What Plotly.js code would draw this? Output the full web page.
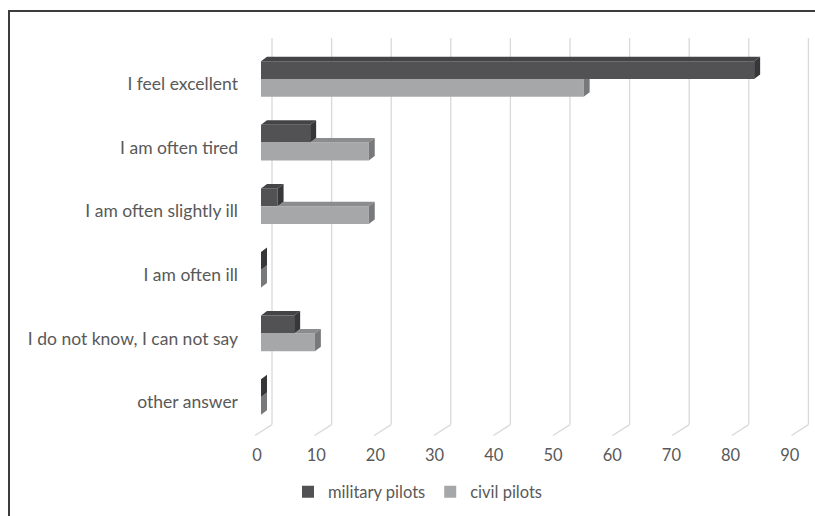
<!DOCTYPE html>
<html>
<head>
<meta charset="utf-8">
<script src="https://cdn.plot.ly/plotly-3.0.1.min.js"></script>
<style>
  html, body { margin: 0; padding: 0; background: #ffffff; }
  #chart { width: 815px; height: 516px; position: absolute; left: 0; top: 0; }
  #frame { position: absolute; left: 8px; top: 10px; width: 900px; height: 600px;
           border-left: 2px solid #3c3c3c; border-top: 2px solid #3c3c3c; pointer-events: none; }
</style>
</head>
<body>
<div id="chart"></div>
<div id="frame"></div>
<script>
// ---- data ----
const categories = [
  "I feel excellent",
  "I am often tired",
  "I am often slightly ill",
  "I am often ill",
  "I do not know, I can not say",
  "other answer"
];
const militaryPilots = [83.3, 8.3, 2.8, 0, 5.6, 0];
const civilPilots = [54.5, 18.2, 18.2, 0, 9.1, 0];
const xTickValues = [0, 10, 20, 30, 40, 50, 60, 70, 80, 90];
const seriesNames = ["military pilots", "civil pilots"];

// ---- geometry helpers (pixel <-> data for the pseudo-3D look) ----
const plotL = 250, plotR = 810, plotT = 36, plotB = 440;
const x0px = 261, pxPerUnit = 5.92;         // bar plane scale
const y0px = 79, pxPerCat = 63.6;           // category spacing
const xd = px => (px - x0px) / pxPerUnit;
const yd = py => (py - y0px) / pxPerCat;
const xRange = [xd(plotL), xd(plotR)];
const yRange = [yd(plotB), yd(plotT)];
const dx = 6 / pxPerUnit, dy = 4.5 / pxPerCat;
const half = 0.28;

const yIdx = categories.map((c, i) => i);

// depth faces
function poly(arrX, arrY, pts) {
  pts.forEach(p => { arrX.push(p[0]); arrY.push(p[1]); });
  arrX.push(null); arrY.push(null);
}
const milTopX = [], milTopY = [], milSideX = [], milSideY = [];
const civTopX = [], civTopY = [], civSideX = [], civSideY = [];
yIdx.forEach(i => {
  const mv = militaryPilots[i], cv = civilPilots[i];
  const mt = i - half, mb = i;
  poly(milTopX, milTopY, [[0, mt], [mv, mt], [mv + dx, mt - dy], [dx, mt - dy]]);
  poly(milSideX, milSideY, [[mv, mt], [mv + dx, mt - dy], [mv + dx, mb - dy], [mv, mb]]);
  const ct = i, cb = i + half;
  if (cv > mv) {
    poly(civTopX, civTopY, [[mv, ct], [cv, ct], [cv + dx, ct - dy], [mv + dx, ct - dy]]);
  }
  if (mv >= cv + dx) {
    poly(civSideX, civSideY, [[cv, ct], [cv + dx, ct], [cv + dx, cb - dy], [cv, cb]]);
  } else {
    poly(civSideX, civSideY, [[cv, ct], [cv + dx, ct - dy], [cv + dx, cb - dy], [cv, cb]]);
  }
});

const colMil = "#525255", colMilTop = "#444447", colMilSide = "#37373a";
const colCiv = "#a6a7a9", colCivTop = "#8b8c8e", colCivSide = "#78797b";

function face(x, y, color) {
  return { type: "scatter", x: x, y: y, mode: "lines", fill: "toself",
           fillcolor: color, line: { width: 0, color: color },
           showlegend: false, hoverinfo: "skip" };
}

const traces = [
  { type: "bar", orientation: "h", name: seriesNames[0], y: yIdx, x: militaryPilots,
    marker: { color: colMil, line: { width: 0 } } },
  { type: "bar", orientation: "h", name: seriesNames[1], y: yIdx, x: civilPilots,
    marker: { color: colCiv, line: { width: 0 } } },
  face(civTopX, civTopY, colCivTop),
  face(civSideX, civSideY, colCivSide),
  face(milTopX, milTopY, colMilTop),
  face(milSideX, milSideY, colMilSide)
];

// gridlines: back wall vertical + floor slant, derived from tick values
const gridShapes = [];
xTickValues.forEach(t => {
  const backPx = 272 + 5.96 * t;
  gridShapes.push({ type: "line", xref: "x", yref: "y", layer: "below",
    x0: xd(backPx), x1: xd(backPx), y0: yd(38), y1: yd(424.6),
    line: { color: "#d9d9d9", width: 1.3 } });
  gridShapes.push({ type: "line", xref: "x", yref: "y", layer: "below",
    x0: xd(backPx), x1: xd(backPx - 17), y0: yd(424.6), y1: yd(435.5),
    line: { color: "#d9d9d9", width: 1.3 } });
});

const fam = "Lato, 'Open Sans', sans-serif";
const font = { family: fam, size: 17, color: "#595959" };

const layout = {
  width: 815, height: 516,
  margin: { l: plotL, r: 815 - plotR, t: plotT, b: 516 - plotB, pad: 0 },
  paper_bgcolor: "#ffffff", plot_bgcolor: "rgba(0,0,0,0)",
  font: font,
  barmode: "group", bargap: 0.44, bargroupgap: 0,
  showlegend: true,
  legend: { orientation: "h", x: (418 - plotL) / (plotR - plotL), xanchor: "center",
            y: (plotB - 492) / (plotB - plotT), yanchor: "middle",
            font: { family: fam, size: 16.5, color: "#595959" },
            traceorder: "normal", itemwidth: 30 },
  xaxis: { range: xRange, tickvals: xTickValues, ticktext: xTickValues.map(String),
           showgrid: false, zeroline: false, showline: false, ticks: "",
           ticklabelstandoff: 3, ticklabelshift: -4, fixedrange: true,
           tickfont: { family: fam, size: 16.5, color: "#595959" } },
  yaxis: { range: yRange, tickmode: "array", tickvals: yIdx, ticktext: categories,
           showgrid: false, zeroline: false, showline: false, ticks: "",
           ticklabelstandoff: 11, ticklabelshift: -5, fixedrange: true,
           tickfont: { family: fam, size: 17.5, color: "#595959" } },
  shapes: gridShapes
};

Plotly.newPlot("chart", traces, layout, { displayModeBar: false, staticPlot: true });
</script>
</body>
</html>
